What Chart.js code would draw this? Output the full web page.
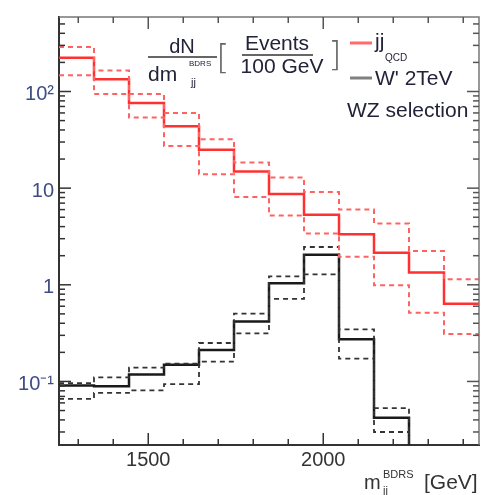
<!DOCTYPE html>
<html><head><meta charset="utf-8">
<script src="https://cdn.jsdelivr.net/npm/chart.js@4/dist/chart.umd.min.js"></script>
<style>html,body{margin:0;padding:0;background:#fff;}#wrap{width:483px;height:495px;}</style>
</head><body><div id="wrap"><canvas id="c" width="483" height="495"></canvas></div>
<script>
// ---- data ----
const binEdges = [1245,1345,1445,1545,1645,1745,1845,1945,2045,2145,2245,2345,2445];
const qcdNominal = [223,134,76,43.6,24.9,14.9,8.7,5.3,3.33,2.14,1.34,0.635];
const qcdUp      = [289,165,94,60,32,18.4,12.9,9.1,6.0,4.3,2.24,1.14];
const qcdDown    = [147,94,53.7,27.3,13.9,8.1,5.2,3.4,1.95,0.99,0.515,0.31];
const wNominal   = [0.091,0.089,0.118,0.149,0.212,0.418,1.04,2.04,0.274,0.042];
const wUp        = [0.096,0.110,0.139,0.153,0.250,0.503,1.22,2.46,0.346,0.053];
const wDown      = [0.066,0.076,0.081,0.094,0.160,0.315,0.714,1.28,0.172,0.030];
const xTickValues = [1500,2000];
const xTickLabels = ['1500','2000'];
const yTickValues = [0.1,1,10,100];
const yTickLabels = ['10\u207B\u00B9','1','10','10\u00B2'];
const xRange = [1245,2445];
const yRange = [0.022,590];

function steps(vals, drop){
  const pts = vals.map((v,i)=>({x:binEdges[i], y:v}));
  pts.push({x:binEdges[vals.length], y:vals[vals.length-1]});
  if (drop) pts.push({x:binEdges[vals.length], y:1e-6});
  return pts;
}
function ds(data, color, width, dash){
  return {data, borderColor:color, borderWidth:width, borderDash:dash||[], stepped:'before',
          pointRadius:0, fill:false, tension:0};
}

const frame = {
  id:'frame',
  afterDraw(chart){
    const ctx = chart.ctx, a = chart.chartArea;
    const xs = chart.scales.x, ys = chart.scales.y;
    ctx.save();
    // top and right frame
    ctx.strokeStyle = '#777'; ctx.lineWidth = 1.5;
    ctx.beginPath(); ctx.moveTo(a.left, a.top); ctx.lineTo(a.right, a.top); ctx.lineTo(a.right, a.bottom); ctx.stroke();
    // x ticks (inward, bottom & top)
    for (let v = Math.ceil(xs.min/100)*100; v <= xs.max; v += 100){
      const p = xs.getPixelForValue(v);
      const L = (v % 500 === 0) ? 12 : 6;
      ctx.strokeStyle = '#333'; ctx.lineWidth = 1.5;
      ctx.beginPath(); ctx.moveTo(p, a.bottom); ctx.lineTo(p, a.bottom - L); ctx.stroke();
      ctx.strokeStyle = '#555';
      ctx.beginPath(); ctx.moveTo(p, a.top); ctx.lineTo(p, a.top + L); ctx.stroke();
    }
    // y ticks (inward, left & right)
    for (let e = Math.floor(Math.log10(ys.min)); e <= Math.ceil(Math.log10(ys.max)); e++){
      for (let k = 1; k <= 9; k++){
        const v = k*Math.pow(10,e);
        if (v < ys.min || v > ys.max) continue;
        const p = ys.getPixelForValue(v);
        const L = (k === 1) ? 12 : 6;
        ctx.strokeStyle = '#333'; ctx.lineWidth = 1.5;
        ctx.beginPath(); ctx.moveTo(a.left, p); ctx.lineTo(a.left + L, p); ctx.stroke();
        ctx.strokeStyle = '#555';
        ctx.beginPath(); ctx.moveTo(a.right, p); ctx.lineTo(a.right - L, p); ctx.stroke();
      }
    }
    // legend / annotation text
    const F = 'Liberation Sans, Arial, sans-serif';
    ctx.fillStyle = '#222238'; ctx.textBaseline = 'middle';
    ctx.font = '20px '+F; ctx.textAlign = 'center';
    ctx.fillText('dN', 182, 47);
    ctx.textAlign = 'left';
    ctx.font = '21px '+F;
    ctx.fillText('dm', 148, 75);
    ctx.font = '11px '+F; ctx.fillText('jj', 191, 83);
    ctx.font = '8px '+F; ctx.fillText('BDRS', 189, 64);
    ctx.strokeStyle = '#333'; ctx.lineWidth = 1.5;
    ctx.beginPath(); ctx.moveTo(148, 57); ctx.lineTo(217, 57); ctx.stroke();
    ctx.fillStyle = '#666';
    ctx.font = '300 34px DejaVu Sans, sans-serif'; ctx.textAlign='center';
    ctx.fillText('[', 223, 60);
    ctx.fillText(']', 335, 57);
    ctx.fillStyle = '#222238';
    ctx.font = '21px '+F;
    ctx.fillText('Events', 277, 44);
    ctx.fillText('100 GeV', 282, 67);
    ctx.beginPath(); ctx.moveTo(242, 55); ctx.lineTo(313, 55); ctx.stroke();
    // legend entries
    ctx.lineWidth = 3;
    ctx.strokeStyle = '#ff6a6a';
    ctx.beginPath(); ctx.moveTo(350, 43); ctx.lineTo(372, 43); ctx.stroke();
    ctx.strokeStyle = '#808080';
    ctx.beginPath(); ctx.moveTo(350, 78); ctx.lineTo(372, 78); ctx.stroke();
    ctx.textAlign = 'left';
    ctx.font = '21px '+F;
    ctx.fillText('jj', 375, 42);
    ctx.font = '10px '+F; ctx.fillText('QCD', 385, 58);
    ctx.font = '21px '+F;
    ctx.fillText("W' 2TeV", 375, 79);
    ctx.fillText('WZ selection', 347, 111);
    // x axis title
    ctx.fillStyle = '#333';
    ctx.font = '20px '+F;
    ctx.fillText('m', 364, 483);
    ctx.font = '11px '+F; ctx.fillText('BDRS', 383, 475); ctx.fillText('jj', 383, 491);
    ctx.font = '21px '+F; ctx.fillText('[GeV]', 424, 483);
    ctx.restore();
  }
};

new Chart(document.getElementById('c'), {
  type:'line',
  data:{ datasets:[
    ds(steps(qcdUp), '#ff6262', 2, [5,4]),
    ds(steps(qcdDown), '#ff6262', 2, [5,4]),
    ds(steps(qcdNominal), '#ff3030', 2.5),
    ds(steps(wUp, true), '#333', 1.8, [5,4]),
    ds(steps(wDown, true), '#333', 1.8, [5,4]),
    ds(steps(wNominal, true), '#1a1a1a', 2.5)
  ]},
  options:{
    responsive:false, animation:false,
    layout:{padding:{top:9,right:4,left:0,bottom:0}},
    plugins:{legend:{display:false}, tooltip:{enabled:false}},
    scales:{
      x:{type:'linear', min:xRange[0], max:xRange[1],
         afterBuildTicks:s=>{s.ticks = xTickValues.map(v=>({value:v}));},
         afterFit:s=>{s.height = 50;},
         ticks:{callback:(v)=>{const i=xTickValues.indexOf(v);return i>=0?xTickLabels[i]:'';},
                font:{family:'Liberation Sans, Arial, sans-serif', size:20}, color:'#333', padding:3, maxRotation:0, autoSkip:false},
         grid:{display:false, drawTicks:false},
         border:{display:true, color:'#333', width:2}},
      y:{type:'logarithmic', min:yRange[0], max:yRange[1],
         afterBuildTicks:s=>{s.ticks = yTickValues.map(v=>({value:v}));},
         afterFit:s=>{s.width = 59;},
         ticks:{callback:(v)=>{const i=yTickValues.indexOf(v);return i>=0?yTickLabels[i]:'';},
                font:{family:'Liberation Sans, Arial, sans-serif', size:20}, color:'#3d4c85', padding:5, labelOffset:3, autoSkip:false},
         grid:{display:false, drawTicks:false},
         border:{display:true, color:'#333', width:2}}
    }
  },
  plugins:[frame]
});
</script></body></html>
